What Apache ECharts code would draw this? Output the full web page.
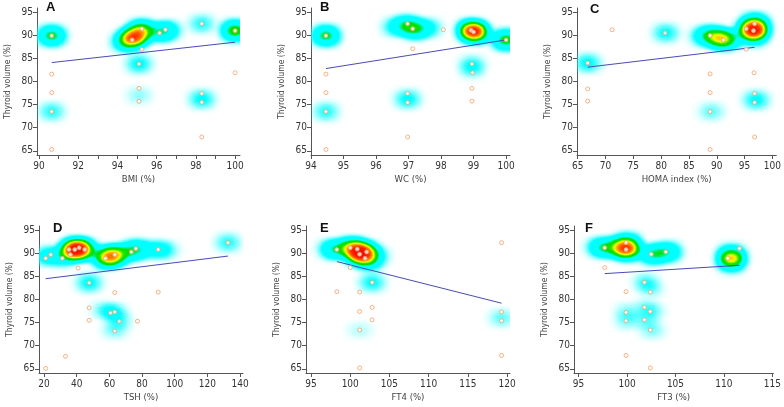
<!DOCTYPE html>
<html><head><meta charset="utf-8">
<script src="https://cdn.jsdelivr.net/npm/echarts@6/dist/echarts.min.js"></script>
<style>html,body{margin:0;padding:0;background:#fff}#c{width:784px;height:407px}</style>
</head><body><div id="c"></div>
<script>
// ---------- DATA ----------
const panelLetters = ['A', 'B', 'C', 'D', 'E', 'F'];
const xNames = ['BMI (%)', 'WC (%)', 'HOMA index (%)', 'TSH (%)', 'FT4 (%)', 'FT3 (%)'];
const yName = 'Thyroid volume (%)';
const yLabels = [65, 70, 75, 80, 85, 90, 95];

const xLabelsA = [90, 92, 94, 96, 98, 100];
const xTicksA = [90, 91, 92, 93, 94, 95, 96, 97, 98, 99, 100];
const xLabelsB = [94, 95, 96, 97, 98, 99, 100];
const xLabelsC = [65, 70, 75, 80, 85, 90, 95, 100];
const xLabelsD = [20, 40, 60, 80, 100, 120, 140];
const xLabelsE = [95, 100, 105, 110, 115, 120];
const xLabelsF = [95, 100, 105, 110, 115];

const pointsA = [[90.65,89.9],[90.65,81.6],[90.65,77.6],[90.65,73.5],[90.65,65.3],[94.75,89.0],[95.25,91.4],[95.25,87.0],[95.1,83.8],[95.1,78.5],[95.1,75.7],[96.15,90.5],[96.45,91.2],[98.3,92.5],[98.3,77.4],[98.3,75.5],[98.3,68.0],[100,91.0],[100,81.9]];
const pointsB = [[94.46,89.9],[94.46,81.6],[94.46,77.6],[94.46,73.5],[94.46,65.3],[96.97,92.5],[97.13,91.4],[97.13,87.1],[96.97,77.4],[96.97,75.45],[96.97,68.0],[98.07,91.2],[98.92,91.1],[99.0,90.7],[98.95,83.8],[98.97,81.9],[98.95,78.5],[98.95,75.75],[100,89.0]];
const pointsC = [[71.2,91.2],[66.8,84.0],[66.8,78.4],[66.8,75.75],[80.7,90.5],[88.8,89.95],[91.2,89.0],[88.8,81.65],[88.8,77.6],[88.8,73.5],[88.8,65.3],[95.3,91.4],[95.3,87.0],[96.6,91.0],[96.8,92.5],[96.7,81.9],[96.8,77.4],[96.8,75.45],[96.8,68.0]];
const pointsD = [[21.0,88.9],[24.1,89.7],[31.2,88.9],[35.3,90.8],[36.1,89.7],[38.8,90.8],[41.5,91.2],[44.9,90.8],[40.85,86.8],[47.6,83.6],[47.6,78.2],[47.6,75.5],[33.1,67.7],[21.0,65.1],[57.6,88.9],[63.3,89.7],[63.3,81.5],[60.7,77.1],[63.3,77.3],[66.0,75.3],[63.3,73.2],[73.4,90.3],[76.2,91.0],[77.2,75.3],[89.9,90.8],[89.9,81.6],[132.6,92.3]];
const pointsE = [[98.3,90.8],[100.0,91.2],[100.9,90.9],[101.2,89.8],[102.1,90.3],[101.9,88.9],[100.0,86.9],[98.3,81.7],[101.2,81.6],[101.2,77.4],[101.2,73.4],[101.2,65.2],[102.8,83.7],[102.8,78.3],[102.8,75.6],[119.3,92.3],[119.3,77.3],[119.3,75.4],[119.3,67.9]];
const pointsF = [[97.7,91.2],[99.9,92.3],[99.9,90.8],[97.7,86.9],[102.5,89.8],[104.0,90.3],[101.8,83.7],[102.4,81.6],[99.9,81.7],[101.8,78.3],[102.4,77.4],[99.9,77.2],[99.9,75.4],[101.8,75.6],[102.4,73.4],[99.9,67.9],[102.4,65.2],[110.4,88.9],[111.6,91.05]];

const lineA = [[90.65, 84.1], [100, 88.5]];
const lineB = [[94.46, 82.8], [100, 89.0]];
const lineC = [[66.8, 83.1], [96.8, 87.4]];
const lineD = [[21.0, 84.5], [132.6, 89.4]];
const lineE = [[98.3, 88.2], [119.3, 79.2]];
const lineF = [[97.7, 85.6], [111.6, 87.4]];

// density: [x, y, weight]
const heatA = [[90.65,89.9,0.39],[90.65,73.5,0.1],[94.8,89.4,0.7],[94.4,88.6,0.25],[95.2,90.6,0.38],[95.25,91.4,0.24],[96.2,90.7,0.24],[96.6,91.1,0.16],[95.1,83.8,0.13],[95.1,77.0,0.05],[98.3,92.5,0.1],[98.3,76.2,0.13],[100,91.0,0.45]];
const heatB = [[94.46,89.9,0.39],[94.46,73.5,0.1],[96.6,91.8,0.14],[96.95,92.2,0.26],[97.2,91.3,0.3],[97.6,91.6,0.14],[98.95,91.0,0.75],[99.1,90.5,0.42],[100,89.0,0.42],[98.95,83.6,0.1],[98.95,82.4,0.05],[96.97,76.2,0.13]];
const heatC = [[66.8,84.0,0.13],[80.7,90.5,0.12],[87.3,89.8,0.14],[88.8,89.9,0.3],[90.4,89.3,0.38],[91.3,89.0,0.26],[92.6,89.2,0.13],[95.6,91.2,0.4],[96.6,91.0,0.72],[96.8,92.4,0.3],[96.4,89.4,0.14],[96.3,93.2,0.1],[88.8,73.5,0.07],[96.8,76.0,0.13]];
const heatD = [[21,89.2,0.1],[24,89.7,0.1],[31,89,0.12],[36,90.2,0.3],[38.8,90.8,0.45],[40.5,91,0.68],[44.9,90.8,0.3],[50.5,90.0,0.08],[57.6,88.9,0.32],[61,89.3,0.42],[63.3,89.7,0.32],[68,90.0,0.1],[73.4,90.3,0.18],[76.2,91,0.18],[82,90.8,0.1],[89.9,90.8,0.13],[95,90.7,0.07],[47.6,83.6,0.13],[56,77.8,0.05],[60.7,77.3,0.065],[63.3,77.3,0.065],[66,75.5,0.07],[63.3,73.5,0.065],[132.6,92.3,0.1]];
const heatE = [[97.5,90.9,0.14],[98.3,90.8,0.22],[100,91.2,0.38],[100.9,90.9,0.42],[101.2,89.8,0.68],[102.1,90.3,0.38],[101.9,88.9,0.28],[103.3,89.4,0.12],[102.6,88.0,0.11],[102.8,83.7,0.12],[119.3,76,0.07],[101.2,73.4,0.035]];
const heatF = [[97.0,91.3,0.14],[97.7,91.2,0.25],[99.0,91.3,0.32],[99.9,92.3,0.3],[99.9,90.8,0.68],[102.5,89.8,0.32],[104,90.3,0.28],[110.4,88.9,0.6],[110.4,87.4,0.1],[110.4,90.4,0.1],[101.8,83.7,0.09],[102.3,82.2,0.05],[99.9,77.3,0.06],[99.9,75.4,0.06],[101.8,78.3,0.055],[101.8,75.6,0.06],[102.4,77.4,0.055],[102.4,73.4,0.06]];

// ---------- LAYOUT / STYLE ----------
const Y_MIN = 64.1, Y_MAX = 95.9;
const layout = [
  {left: 37,  top: 8,   width: 203, height: 147, xMin: 89.9,  xMax: 100.25, lx: 46,  ly: 1},
  {left: 311, top: 8,   width: 199, height: 147, xMin: 94.0,  xMax: 100.12, lx: 320, ly: 1},
  {left: 577, top: 8,   width: 201, height: 147, xMin: 64.88, xMax: 100.7,  lx: 590, ly: 3},
  {left: 39,  top: 226, width: 204, height: 147, xMin: 16.9,  xMax: 141.8,  lx: 53,  ly: 222},
  {left: 306, top: 226, width: 204, height: 147, xMin: 94.36, xMax: 120.38, lx: 320, ly: 222},
  {left: 574, top: 226, width: 204, height: 147, xMin: 94.53, xMax: 115.1,  lx: 585, ly: 222}
];
const FONT = "'DejaVu Sans Condensed', 'Liberation Sans', sans-serif";
const AXIS_COLOR = '#555';

// colour ramp of the density map
const rampStops = [[0, '#00ffff'], [0.44, '#00ffff'], [0.56, '#00e000'], [0.66, '#20e400'], [0.75, '#ffff00'], [0.83, '#ff9000'], [0.91, '#ff2000'], [1, '#e00000']];
function buildRamp(stops, n) {
  const hex = c => [parseInt(c.slice(1, 3), 16), parseInt(c.slice(3, 5), 16), parseInt(c.slice(5, 7), 16)];
  const out = [];
  for (let k = 0; k < n; k++) {
    const t = k / (n - 1);
    let j = 0;
    while (j < stops.length - 2 && t > stops[j + 1][0]) j++;
    const a = stops[j], b = stops[j + 1];
    const f = (t - a[0]) / (b[0] - a[0]);
    const ca = hex(a[1]), cb = hex(b[1]);
    out.push('rgb(' + ca.map((v, q) => Math.round(v + (cb[q] - v) * Math.min(1, Math.max(0, f)))).join(',') + ')');
  }
  return out;
}

const points = [pointsA, pointsB, pointsC, pointsD, pointsE, pointsF];
const lines = [lineA, lineB, lineC, lineD, lineE, lineF];
const heats = [heatA, heatB, heatC, heatD, heatE, heatF];
const xLabels = [xLabelsA, xLabelsB, xLabelsC, xLabelsD, xLabelsE, xLabelsF];
const xTicks = [xTicksA, xLabelsB, xLabelsC, xLabelsD, xLabelsE, xLabelsF];

const grids = [], xAxes = [], yAxes = [], geos = [], series = [], graphics = [], heatIdx = [];
const SPREAD_PX = 6;

layout.forEach((L, i) => {
  const mapName = 'panel' + i;
  echarts.registerMap(mapName, {
    type: 'FeatureCollection',
    features: [{
      type: 'Feature', properties: {name: mapName},
      geometry: {type: 'Polygon', coordinates: [[[L.xMin, Y_MIN], [L.xMax, Y_MIN], [L.xMax, Y_MAX], [L.xMin, Y_MAX], [L.xMin, Y_MIN]]]}
    }]
  });
  grids.push({left: L.left, top: L.top, width: L.width, height: L.height});
  geos.push({
    map: mapName, left: L.left, top: L.top, width: L.width, height: L.height,
    roam: false, silent: true, z: 0,
    itemStyle: {areaColor: 'rgba(0,0,0,0)', borderColor: 'rgba(0,0,0,0)', borderWidth: 0},
    emphasis: {disabled: true}, label: {show: false}
  });
  xAxes.push({
    type: 'value', gridIndex: i, min: L.xMin, max: L.xMax,
    name: xNames[i], nameLocation: 'middle', nameGap: 20,
    nameTextStyle: {fontFamily: FONT, fontSize: 9.5, color: '#444'},
    axisLine: {show: true, onZero: false, lineStyle: {color: AXIS_COLOR, width: 1}},
    axisTick: {show: true, length: 4, customValues: xTicks[i], lineStyle: {color: AXIS_COLOR}},
    axisLabel: {customValues: xLabels[i], fontFamily: FONT, fontSize: 10, color: '#333', margin: 6},
    splitLine: {show: false}
  });
  yAxes.push({
    type: 'value', gridIndex: i, min: Y_MIN, max: Y_MAX,
    name: yName, nameLocation: 'middle', nameGap: 25,
    nameTextStyle: {fontFamily: FONT, fontSize: 8.5, color: '#444'},
    axisLine: {show: true, onZero: false, lineStyle: {color: AXIS_COLOR, width: 1}},
    axisTick: {show: true, length: 4, customValues: yLabels, lineStyle: {color: AXIS_COLOR}},
    axisLabel: {customValues: yLabels, fontFamily: FONT, fontSize: 10, color: '#333', margin: 4},
    splitLine: {show: false}
  });
  const dx = SPREAD_PX * (L.xMax - L.xMin) / L.width;
  const hdata = [];
  heats[i].forEach(h => {
    hdata.push([h[0] - dx, h[1], h[2]], [h[0], h[1], h[2]], [h[0] + dx, h[1], h[2]]);
  });
  heatIdx.push(series.length);
  series.push({
    type: 'heatmap', coordinateSystem: 'geo', geoIndex: i, data: hdata,
    pointSize: 8, blurSize: 10, minOpacity: 0, maxOpacity: 5, silent: true, z: 1
  });
  series.push({
    type: 'line', xAxisIndex: i, yAxisIndex: i, data: lines[i], symbol: 'none',
    lineStyle: {color: '#4a4ab8', width: 1}, silent: true, z: 2
  });
  series.push({
    type: 'scatter', xAxisIndex: i, yAxisIndex: i, data: points[i], symbol: 'circle', symbolSize: 4,
    itemStyle: {color: '#fff', borderColor: '#f2a068', borderWidth: 1}, silent: true, z: 3
  });
  graphics.push({
    type: 'text', x: L.lx, y: L.ly, z: 10,
    style: {text: panelLetters[i], font: "bold 13px 'Liberation Sans', Arial, sans-serif", fill: '#111'}
  });
});

const chart = echarts.init(document.getElementById('c'), null, {renderer: 'canvas'});
chart.setOption({
  animation: false,
  backgroundColor: '#fff',
  grid: grids, xAxis: xAxes, yAxis: yAxes, geo: geos,
  visualMap: {
    type: 'continuous', show: false, min: 0, max: 1, seriesIndex: heatIdx,
    inRange: {color: buildRamp(rampStops, 51)}
  },
  graphic: graphics,
  series: series
});
</script></body></html>
